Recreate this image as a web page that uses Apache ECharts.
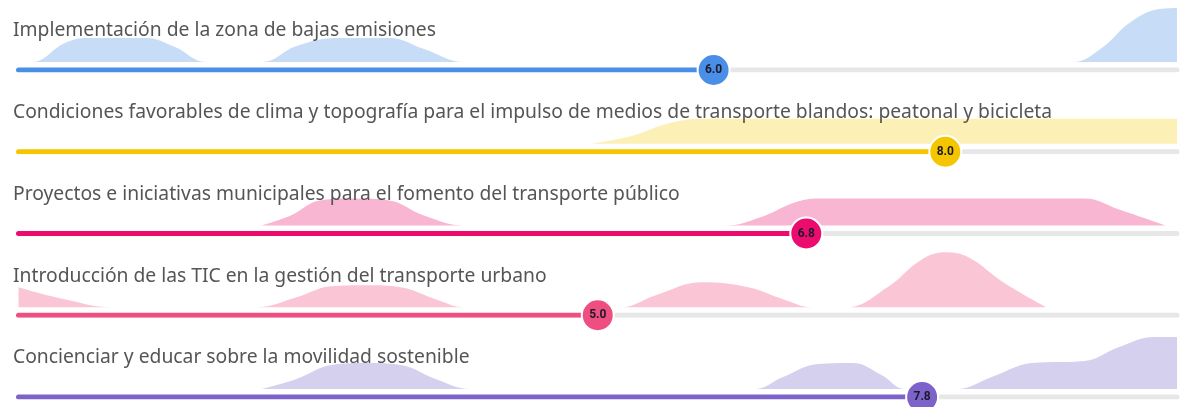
<!DOCTYPE html>
<html>
<head>
<meta charset="utf-8">
<script src="https://cdn.jsdelivr.net/npm/echarts@6/dist/echarts.min.js"></script>
<style>
  html, body { margin: 0; padding: 0; background: #fff; }
  #chart { width: 1182px; height: 407px; }
</style>
</head>
<body>
<div id="chart"></div>
<script>
// titulos de cada indicador
const labels = [
  'Implementación de la zona de bajas emisiones',
  'Condiciones favorables de clima y topografía para el impulso de medios de transporte blandos: peatonal y bicicleta',
  'Proyectos e iniciativas municipales para el fomento del transporte público',
  'Introducción de las TIC en la gestión del transporte urbano',
  'Concienciar y educar sobre la movilidad sostenible'
];
// nota media (0-10)
const scores = [6.0, 8.0, 6.8, 5.0, 7.8];

// distribucion de respuestas [nota, altura]
const dist1 = [[0,0],[0.12,0],[0.4,19],[0.6,24],[1.1,24],[1.35,15],[1.62,0],[2.1,0],[2.4,16],[2.75,24],[3.2,24],[3.5,13],[3.85,0],[9.1,0],[9.35,14],[9.6,40],[9.85,53],[10,54]];
const dist2 = [[4.95,0],[5.3,8],[5.6,20],[5.9,25],[6.5,25],[10,25]];
const dist3 = [[2.1,0],[2.35,10],[2.6,25],[2.9,27],[3.2,25],[3.5,10],[3.85,0],[6.1,0],[6.4,8],[6.7,23],[6.9,27],[9.2,27],[9.5,16],[9.9,0]];
const dist4 = [[0,20],[0.15,15],[0.4,8],[0.8,0],[2.05,0],[2.4,10],[2.7,21],[3.0,22],[3.3,20],[3.6,8],[3.85,0],[5.2,0],[5.5,12],[5.9,25],[6.3,20],[6.6,8],[6.85,0],[7.15,0],[7.5,20],[7.8,48],[8.0,55],[8.2,50],[8.5,25],[8.87,0]];
const dist5 = [[2.1,0],[2.4,10],[2.7,24],[3.0,26],[3.3,24],[3.6,10],[3.9,0],[6.35,0],[6.6,12],[6.9,25],[7.2,26],[7.45,14],[7.65,0],[8.1,0],[8.4,12],[8.75,26],[9.2,28],[9.5,42],[9.8,52],[10,52]];
const dists = [dist1, dist2, dist3, dist4, dist5];

const barColors = ['#4a8fe7', '#f5c500', '#ec0c6e', '#ef4f80', '#7d62c9'];
const areaColors = ['#c7dcf6', '#fdf0b6', '#f9b6d3', '#fac6d6', '#d6d0ef'];

let myChart = echarts.init(document.getElementById('chart'));

let grids = [], xAxes = [], yAxes = [], series = [], titles = [];
labels.forEach((name, i) => {
  let barY = 70 + 81.75 * i;
  grids.push({ left: 18.5, right: 5, top: barY - 68, height: 68 });
  xAxes.push({ type: 'value', gridIndex: i, min: 0, max: 10, show: false });
  yAxes.push({ type: 'value', gridIndex: i, min: -8, max: 60, show: false });
  titles.push({
    text: name, left: 13, top: barY - 49, padding: 0,
    textStyle: { fontFamily: 'Noto Sans', fontSize: 19.3, fontWeight: 'normal', color: '#555', lineHeight: 20 }
  });
  // area de la distribucion
  series.push({
    type: 'line', xAxisIndex: i, yAxisIndex: i, data: dists[i], smooth: 0.4,
    showSymbol: false, silent: true, z: 1,
    lineStyle: { width: 0 }, areaStyle: { color: areaColors[i], opacity: 1, origin: 'auto' }
  });
  // pista gris
  series.push({
    type: 'line', xAxisIndex: i, yAxisIndex: i, data: [[scores[i], -8], [10, -8]],
    showSymbol: false, silent: true, z: 2,
    lineStyle: { width: 5, color: '#e6e7e6', cap: 'round' }
  });
  // barra de progreso
  series.push({
    type: 'line', xAxisIndex: i, yAxisIndex: i, data: [[0, -8], [scores[i], -8]],
    showSymbol: false, silent: true, z: 3,
    lineStyle: { width: 5, color: barColors[i], cap: 'round' }
  });
  series.push({
    type: 'scatter', xAxisIndex: i, yAxisIndex: i, data: [[scores[i], -8]],
    symbolSize: 32, z: 4,
    itemStyle: { color: barColors[i], borderColor: '#fff', borderWidth: 2, opacity: 1 },
    label: {
      show: true, position: 'inside', formatter: p => p.value[0].toFixed(1),
      fontFamily: 'Roboto', fontSize: 12, fontWeight: 'bold', color: '#1b1b2b'
    }
  });
});

let option = {
  animation: false,
  title: titles,
  grid: grids,
  xAxis: xAxes,
  yAxis: yAxes,
  series: series
};
myChart.setOption(option);
</script>
</body>
</html>
